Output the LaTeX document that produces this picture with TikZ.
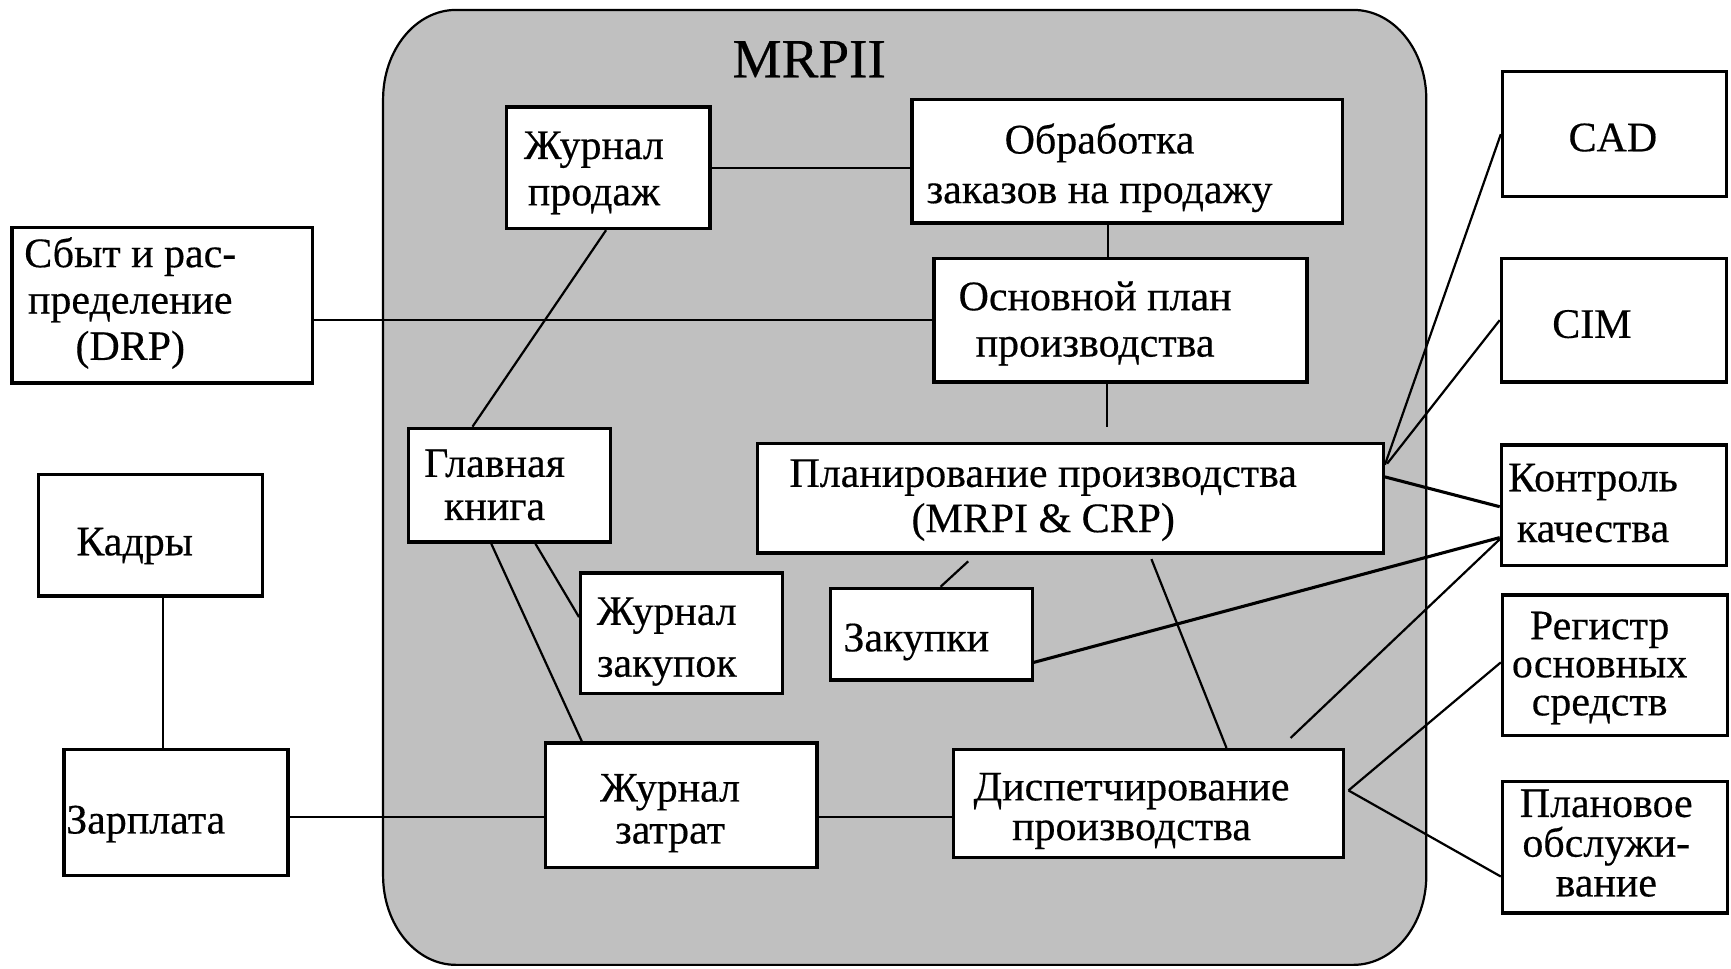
\documentclass[tikz,border=0pt]{standalone}
\usepackage{fontspec}
\setmainfont[FakeBold=0.4]{Liberation Serif}
\definecolor{panelgray}{HTML}{C0C0C0}
\begin{document}
\begin{tikzpicture}[x=1pt,y=-1pt,
  box/.style={draw=black, line width=3pt, fill=white, rectangle, inner sep=0pt},
  % multi-line labels are placed by the baseline of their last line
  lbl/.style={inner sep=0pt, align=center, anchor=base, font=\fontsize{38}{#1}\selectfont},
  lbl/.default=42,
  link/.style={line width=2pt},
  heavy/.style={line width=2.8pt}
]
\useasboundingbox[fill=white] (0,0) rectangle (1568,877);

% MRP II panel with rounded corners
\draw[fill=panelgray, line width=2pt]
  (413,9) -- (1226,9) arc[start angle=90, end angle=0, x radius=66pt, y radius=81pt]
  -- (1292,793) arc[start angle=0, end angle=-90, x radius=66pt, y radius=81pt]
  -- (413,874) arc[start angle=270, end angle=180, x radius=66pt, y radius=81pt]
  -- (347,90) arc[start angle=180, end angle=90, x radius=66pt, y radius=81pt] -- cycle;
\node[inner sep=0pt, anchor=base, font=\fontsize{50}{60}\selectfont] (mrp) at (733,70) {MRPII};

% boxes
\node[box, minimum width=184pt, minimum height=110pt] (jprod) at (551,152) {};
\node[box, minimum width=390pt, minimum height=112pt] (obr) at (1021,146) {};
\node[box, minimum width=272pt, minimum height=141pt] (drp) at (147,276.5) {};
\node[box, minimum width=338pt, minimum height=112pt] (osn) at (1015,290) {};
\node[box, minimum width=183pt, minimum height=103pt] (glav) at (461.5,439.5) {};
\node[box, minimum width=203pt, minimum height=110pt] (kadr) at (136.5,485) {};
\node[box, minimum width=203pt, minimum height=114pt] (zarp) at (159.5,736) {};
\node[box, minimum width=183pt, minimum height=109pt] (jzak) at (617.5,573.5) {};
\node[box, minimum width=246pt, minimum height=113pt] (jzat) at (617,729.5) {};
\node[box, minimum width=567pt, minimum height=99pt] (plan) at (969.5,451.5) {};
\node[box, minimum width=183pt, minimum height=83pt] (zak) at (843.5,574.5) {};
\node[box, minimum width=353pt, minimum height=98pt] (disp) at (1040.5,728) {};
\node[box, minimum width=203pt, minimum height=113pt] (cad) at (1462.5,121.5) {};
\node[box, minimum width=204pt, minimum height=112pt] (cim) at (1462,290) {};
\node[box, minimum width=204pt, minimum height=109pt] (kont) at (1462,457.5) {};
\node[box, minimum width=204pt, minimum height=127pt] (reg) at (1463,602.5) {};
\node[box, minimum width=204pt, minimum height=119pt] (plob) at (1463,767.5) {};

% connectors
\draw[link] (jprod.east) -- (jprod.east -| obr.west);
\draw[link] ([xshift=-17pt]obr.south) -- ++(0,32);
\draw[link] (drp.east |- osn.west) -- (osn.west);
\coordinate (osnend) at (1003,387);
\draw[link] ([xshift=-12pt]osn.south) -- (osnend);
\draw[link] ([xshift=-2pt]jprod.south) -- ([xshift=-33.5pt]glav.north);
\draw[link] ([xshift=23.5pt]glav.south) -- ([yshift=14.5pt]jzak.west);
\draw[link] ([xshift=-16.5pt]glav.south) -- ([xshift=-90pt]jzat.north);
\draw[link] ([yshift=-4pt]zarp.east) -- ([yshift=-10.5pt]jzat.west);
\draw[link] ([xshift=11.5pt]kadr.south) -- ([xshift=-11.5pt]zarp.north);
\draw[link] ([yshift=-10.5pt]jzat.east) -- ([yshift=-12pt]disp.west);
\draw[link] ([xshift=-92.5pt,yshift=-6pt]plan.south) -- ([xshift=8.5pt]zak.north);
\draw[link] ([xshift=73.5pt,yshift=-4pt]plan.south) -- ([xshift=70.5pt]disp.north);
\draw[heavy] ([yshift=-25.5pt]zak.east) -- ([yshift=-29.5pt]kont.west);
\draw[link] ([xshift=128.5pt,yshift=9pt]disp.north) -- ([yshift=-31pt]kont.west);
\draw[heavy] ([yshift=19.5pt]plan.east) -- ([yshift=-1.5pt]kont.west);
\draw[link] ([yshift=30.5pt]plan.east) -- (cad.west);
\draw[link] ([xshift=2pt,yshift=31.5pt]plan.east) -- (cim.west);
\draw[link] ([xshift=3pt,yshift=12pt]disp.east) -- ([yshift=2.5pt]reg.west);
\draw[link] ([xshift=3pt,yshift=12pt]disp.east) -- ([yshift=-26.5pt]plob.west);

% labels
\node[lbl=42] (jprod-t) at (538,186) {Журнал\\продаж};
\node[lbl=45] (obr-t) at (996,184) {Обработка\\заказов на продажу};
\node[lbl=42] (drp-t) at (118,326) {Сбыт и рас-\\пределение\\(DRP)};
\node[lbl=42] (osn-t) at (992,323) {Основной план\\производства};
\node[lbl=41] (plan-t) at (945,482) {Планирование производства\\(MRPI \& CRP)};
\node[lbl=39] (glav-t) at (448,471) {Главная\\книга};
\node[lbl=47] (jzak-t) at (604,613) {Журнал\\закупок};
\node[lbl=38] (jzat-t) at (607,764) {Журнал\\затрат};
\node[lbl=36] (disp-t) at (1025,761) {Диспетчирование\\производства};
\node[lbl=46] (kont-t) at (1443,491) {Контроль\\качества};
\node[lbl=34.5] (reg-t) at (1449,648) {Регистр\\основных\\средств};
\node[lbl=36] (plob-t) at (1455,812) {Плановое\\обслужи-\\вание};
\node[lbl] (cad-t) at (1461,137) {CAD};
\node[lbl] (cim-t) at (1442,306) {CIM};
\node[lbl] (kadr-t) at (122,503) {Кадры};
\node[lbl] (zarp-t) at (132,755) {Зарплата};
\node[lbl] (zak-t) at (830,590) {Закупки};
\end{tikzpicture}
\end{document}
